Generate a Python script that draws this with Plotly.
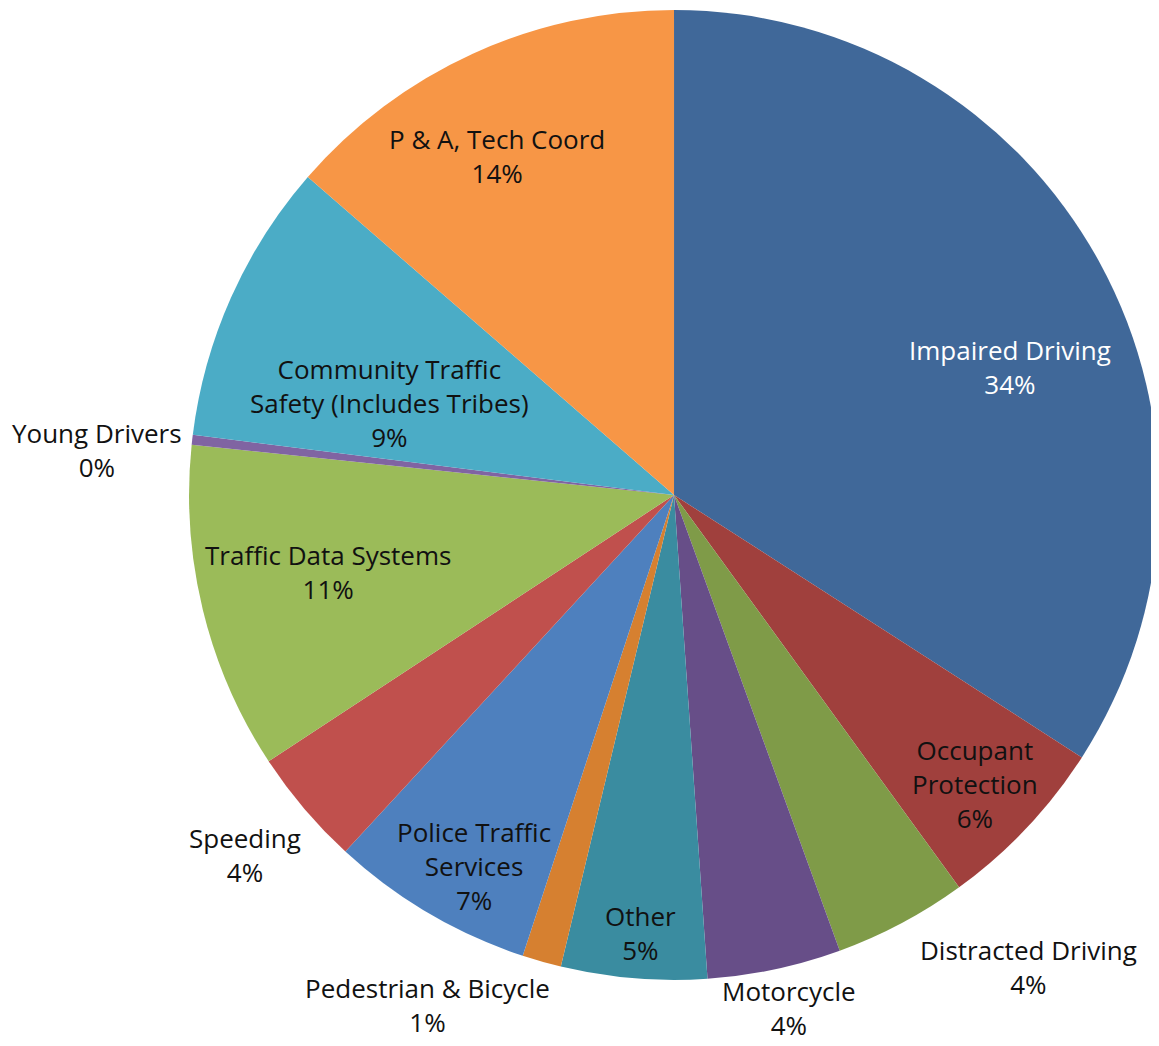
import plotly.graph_objects as go

# ---- data ----
categories = [
    "Impaired Driving", "Occupant Protection", "Distracted Driving", "Motorcycle",
    "Other", "Pedestrian & Bicycle", "Police Traffic Services", "Speeding",
    "Traffic Data Systems", "Young Drivers", "Community Traffic Safety (Includes Tribes)",
    "P & A, Tech Coord",
]
values = [34.1, 5.9, 4.45, 4.45, 4.85, 1.3, 6.8, 3.9, 10.9, 0.33, 9.4, 13.62]
# label text as displayed (line breaks)
display_labels = [
    "Impaired Driving", "Occupant<br>Protection", "Distracted Driving", "Motorcycle",
    "Other", "Pedestrian & Bicycle", "Police Traffic<br>Services", "Speeding",
    "Traffic Data Systems", "Young Drivers", "Community Traffic<br>Safety (Includes Tribes)",
    "P & A, Tech Coord",
]

# ---- styles ----
colors = ["#406899", "#A0403D", "#7F9B48", "#674E88", "#3A8CA0", "#D68030",
          "#4E80BE", "#C0504D", "#9BBB59", "#8064A2", "#4BACC6", "#F79646"]
text_colors = ["#FFFFFF"] + ["#111111"] * 11
# label block centres in window pixels (x, y from top)
label_pos_px = [(1010, 367), (975, 784), (1028, 967), (789, 1008), (640, 933),
                (427, 1005), (474, 866), (245, 855), (328, 572), (97, 450),
                (389, 403), (497, 156)]

OFF = 8                      # page body margin
W, H = 1159 - OFF, 1046 - OFF
FONT = "Open Sans"

fig = go.Figure(go.Pie(
    labels=categories,
    values=values,
    sort=False,
    direction="clockwise",
    rotation=0,
    textinfo="none",
    hoverinfo="label+percent",
    marker=dict(colors=colors, line=dict(width=0)),
    domain=dict(x=[0.1573, 1.0], y=[0.0636, 0.9981]),
    showlegend=False,
))

total = sum(values)
annotations = []
for lab, v, (px, py), tc in zip(display_labels, values, label_pos_px, text_colors):
    pct = int(round(v / total * 100))
    annotations.append(dict(
        text=f"{lab}<br>{pct}%",
        x=(px - OFF) / W, y=1 - (py - OFF) / H, xref="paper", yref="paper",
        xanchor="center", yanchor="middle", align="center",
        showarrow=False, borderpad=0,
        font=dict(family=FONT, size=26, color=tc),
    ))

fig.update_layout(
    width=W, height=H,
    margin=dict(l=0, r=0, t=0, b=0),
    paper_bgcolor="white", plot_bgcolor="white",
    font=dict(family=FONT),
    annotations=annotations,
)

fig.write_html("out.html")
